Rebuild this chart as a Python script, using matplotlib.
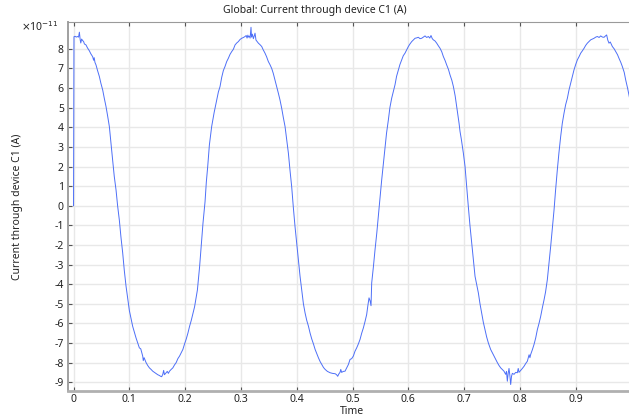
import matplotlib
matplotlib.use("Agg")
import matplotlib.pyplot as plt
from matplotlib.ticker import FuncFormatter

plt.rcParams['font.family'] = ['Noto Sans', 'DejaVu Sans']
plt.rcParams['axes.unicode_minus'] = False

# values, current in units of 1e-11 A
time = [
    0.0, 0.0008, 0.003, 0.005, 0.007, 0.009, 0.0105, 0.012, 0.013, 0.0145,
    0.0164, 0.018, 0.0195, 0.0224, 0.025, 0.0284, 0.031, 0.0343, 0.036, 0.037,
    0.0385, 0.0403, 0.043, 0.0463, 0.049, 0.0523, 0.055, 0.0582, 0.061, 0.0642,
    0.067, 0.0702, 0.073, 0.0762, 0.079, 0.0821, 0.085, 0.0881, 0.091, 0.0941,
    0.097, 0.1001, 0.103, 0.106, 0.109, 0.112, 0.115, 0.118, 0.1205, 0.124,
    0.125, 0.1265, 0.130, 0.133, 0.136, 0.139, 0.142, 0.145, 0.148, 0.151,
    0.154, 0.156, 0.158, 0.160, 0.1615, 0.163, 0.166, 0.168, 0.170, 0.172,
    0.175, 0.178, 0.181, 0.184, 0.187, 0.190, 0.193, 0.196, 0.199, 0.202,
    0.205, 0.208, 0.211, 0.214, 0.217, 0.219, 0.222, 0.226, 0.229, 0.232,
    0.2357, 0.238, 0.2405, 0.2435, 0.2476, 0.252, 0.2566, 0.2596, 0.2626, 0.2656,
    0.2686, 0.2715, 0.2745, 0.2775, 0.2805, 0.2835, 0.2865, 0.2895, 0.2925, 0.2954,
    0.2985, 0.3014, 0.3045, 0.3074, 0.3095, 0.311, 0.3125, 0.3134, 0.315, 0.3165,
    0.3181, 0.319, 0.3205, 0.3223, 0.3238, 0.3253, 0.327, 0.3313, 0.334, 0.3373,
    0.340, 0.3432, 0.346, 0.3492, 0.352, 0.3552, 0.358, 0.3612, 0.364, 0.3671,
    0.370, 0.3731, 0.376, 0.3791, 0.382, 0.3851, 0.388, 0.391, 0.394, 0.397,
    0.400, 0.403, 0.406, 0.409, 0.412, 0.415, 0.418, 0.421, 0.424, 0.427,
    0.430, 0.433, 0.436, 0.439, 0.442, 0.445, 0.448, 0.451, 0.455, 0.460,
    0.464, 0.469, 0.4715, 0.4735, 0.4755, 0.4776, 0.479, 0.4805, 0.4836, 0.4866,
    0.4896, 0.4926, 0.4956, 0.4985, 0.5015, 0.5045, 0.5075, 0.5105, 0.5135, 0.5165,
    0.5195, 0.5225, 0.5254, 0.5275, 0.5296, 0.5315, 0.5332, 0.5344, 0.5375, 0.5404,
    0.5435, 0.5463, 0.549, 0.5523, 0.5555, 0.5583, 0.561, 0.5643, 0.567, 0.5702,
    0.573, 0.5762, 0.579, 0.5822, 0.585, 0.5882, 0.591, 0.5941, 0.597, 0.6001,
    0.603, 0.6061, 0.609, 0.6121, 0.615, 0.618, 0.621, 0.624, 0.627, 0.630,
    0.633, 0.636, 0.6385, 0.6407, 0.643, 0.6449, 0.648, 0.6509, 0.654, 0.6569,
    0.660, 0.6628, 0.666, 0.6688, 0.672, 0.6748, 0.678, 0.6808, 0.684, 0.6867,
    0.689, 0.691, 0.6927, 0.695, 0.6987, 0.7017, 0.7045, 0.7076, 0.7105, 0.7136,
    0.7165, 0.7196, 0.7225, 0.7256, 0.7285, 0.7315, 0.7345, 0.7375, 0.7405, 0.7435,
    0.7476, 0.7506, 0.7536, 0.7566, 0.7596, 0.7626, 0.7656, 0.7685, 0.7715, 0.7745,
    0.776, 0.7775, 0.779, 0.7805, 0.782, 0.7835, 0.785, 0.7865, 0.7895, 0.7925,
    0.7954, 0.797, 0.7984, 0.8014, 0.8044, 0.8074, 0.8104, 0.8134, 0.8165, 0.818,
    0.8193, 0.8223, 0.8253, 0.8283, 0.8313, 0.8343, 0.8373, 0.8403, 0.8433, 0.846,
    0.8492, 0.852, 0.8552, 0.858, 0.8612, 0.864, 0.8671, 0.870, 0.8731, 0.876,
    0.8791, 0.882, 0.8851, 0.888, 0.891, 0.894, 0.897, 0.900, 0.903, 0.906,
    0.909, 0.912, 0.915, 0.918, 0.9209, 0.924, 0.9269, 0.930, 0.9329, 0.936,
    0.9388, 0.942, 0.9448, 0.948, 0.9508, 0.953, 0.9555, 0.9575, 0.9597, 0.962,
    0.9657, 0.969, 0.9717, 0.975, 0.9776, 0.981, 0.9836, 0.987, 0.9896, 0.993,
    0.9955, 1.0,
]
current = [
    0.0, 8.62, 8.64, 8.6, 8.63, 8.6, 8.85, 8.45, 8.3, 8.5,
    8.42, 8.38, 8.25, 8.2, 8.05, 7.9, 7.75, 7.6, 7.42, 7.55,
    7.3, 7.18, 6.9, 6.59, 6.25, 5.9, 5.5, 5.06, 4.6, 4.04,
    3.2, 2.3, 1.5, 0.8, 0.0, -0.73, -1.6, -2.4, -3.3, -4.1,
    -4.7, -5.35, -5.75, -6.15, -6.45, -6.74, -7.0, -7.25, -7.3, -7.67,
    -7.9, -7.75, -8.0, -8.15, -8.27, -8.35, -8.44, -8.5, -8.56, -8.62,
    -8.66, -8.7, -8.72, -8.6, -8.4, -8.62, -8.52, -8.45, -8.55, -8.44,
    -8.35, -8.27, -8.12, -8.0, -7.8, -7.67, -7.5, -7.33, -7.05, -6.8,
    -6.5, -6.15, -5.85, -5.5, -5.15, -4.8, -4.3, -3.1, -2.0, -0.9,
    0.2, 1.2, 2.0, 3.1, 4.04, 4.75, 5.4, 5.8, 6.08, 6.55,
    6.9, 7.1, 7.35, 7.52, 7.72, 7.86, 7.98, 8.2, 8.3, 8.37,
    8.48, 8.54, 8.58, 8.63, 8.68, 8.55, 8.7, 8.6, 8.65, 8.55,
    9.1, 8.6, 8.75, 8.52, 8.65, 8.8, 8.45, 8.29, 8.22, 8.12,
    7.95, 7.78, 7.6, 7.35, 7.2, 7.0, 6.75, 6.4, 6.1, 5.74,
    5.4, 4.97, 4.5, 4.04, 3.4, 2.68, 1.8, 0.97, -0.1, -1.07,
    -1.9, -2.77, -3.6, -4.3, -5.0, -5.47, -5.85, -6.14, -6.5, -6.8,
    -7.05, -7.33, -7.55, -7.76, -7.95, -8.1, -8.25, -8.35, -8.45, -8.52,
    -8.55, -8.57, -8.62, -8.7, -8.58, -8.5, -8.35, -8.5, -8.45, -8.44,
    -8.27, -8.1, -7.84, -7.8, -7.67, -7.42, -7.25, -7.05, -6.82, -6.5,
    -6.23, -5.9, -5.55, -5.1, -4.7, -4.85, -5.1, -3.94, -3.1, -2.24,
    -1.4, -0.56, 0.3, 1.31, 2.2, 3.0, 3.7, 4.38, 5.0, 5.48,
    5.8, 6.17, 6.6, 6.93, 7.2, 7.44, 7.65, 7.78, 7.95, 8.12,
    8.25, 8.37, 8.45, 8.54, 8.56, 8.59, 8.52, 8.54, 8.6, 8.66,
    8.58, 8.63, 8.55, 8.68, 8.52, 8.46, 8.4, 8.29, 8.15, 8.03,
    7.85, 7.61, 7.4, 7.18, 6.95, 6.67, 6.4, 6.08, 5.6, 5.06,
    4.6, 4.2, 3.79, 3.4, 2.68, 2.0, 1.0, -0.05, -1.0, -1.9,
    -2.8, -3.6, -4.0, -4.45, -5.0, -5.47, -5.95, -6.32, -6.7, -7.0,
    -7.33, -7.5, -7.67, -7.85, -8.0, -8.15, -8.27, -8.35, -8.44, -8.6,
    -8.45, -8.95, -8.55, -8.3, -8.65, -9.12, -8.7, -8.55, -8.6, -8.5,
    -8.52, -8.3, -8.5, -8.4, -8.3, -8.19, -8.05, -7.93, -7.6, -7.75,
    -7.59, -7.35, -7.08, -6.75, -6.32, -6.0, -5.64, -5.2, -4.8, -4.4,
    -3.77, -3.0, -2.07, -1.2, -0.22, 0.8, 1.83, 2.7, 3.53, 4.2,
    4.72, 5.15, 5.48, 5.9, 6.25, 6.6, 6.93, 7.2, 7.44, 7.6,
    7.78, 7.9, 8.03, 8.18, 8.29, 8.38, 8.46, 8.5, 8.54, 8.6,
    8.63, 8.58, 8.66, 8.6, 8.59, 8.65, 8.71, 8.45, 8.29, 8.35,
    8.12, 8.0, 7.86, 7.7, 7.52, 7.3, 7.1, 6.8, 6.42, 6.0,
    5.65, 5.0,
]

x_ticks = [0, 0.1, 0.2, 0.3, 0.4, 0.5, 0.6, 0.7, 0.8, 0.9]
y_ticks = list(range(-9, 9))

fig = plt.figure(figsize=(6.29, 4.18), dpi=100)
# axes runs a bit past the right edge, like the cropped original
ax = fig.add_axes([68/629, 1 - 391/418, (637 - 68)/629, (391 - 22)/418])

ax.plot(time, current, color='#4d6ff7', lw=0.7)

ax.set_xlim(-0.0099, 1.0099)
ax.set_ylim(-9.45, 9.37)
ax.set_xticks(x_ticks)
ax.set_yticks(y_ticks)
ax.xaxis.set_major_formatter(FuncFormatter(lambda v, p: f"{v:g}"))
ax.grid(True, color='#e8e8e8', lw=1.0)
ax.set_axisbelow(True)

ax.tick_params(direction='in', length=3, width=0.8, color='#555555',
               labelsize=7.5, labelcolor='#222222', top=True, pad=3)
ax.tick_params(axis='x', pad=2)

ax.spines['right'].set_visible(False)
ax.spines['top'].set_color('#9a9a9a')
ax.spines['top'].set_linewidth(0.8)
ax.spines['left'].set_color('#a0a0a0')
ax.spines['left'].set_linewidth(1.4)
ax.spines['bottom'].set_color('#b0b0b0')
ax.spines['bottom'].set_linewidth(2.0)

ax.set_xlabel('Time', fontsize=7.5, color='#222222')
ax.xaxis.set_label_coords(0.5, -0.041)
ax.set_ylabel('Current through device C1 (A)', fontsize=7.5, color='#222222')
ax.yaxis.set_label_coords(-0.079, 0.5)

fig.text(0.5, 1 - 11/418, 'Global: Current through device C1 (A)',
         ha='center', va='center', fontsize=7.5, color='#222222')
fig.text(58/629, 1 - 27/418, r'$\times$10$^{-11}$', ha='right', va='center',
         fontsize=7.5, color='#222222')

fig.savefig('out.png', dpi=100)
